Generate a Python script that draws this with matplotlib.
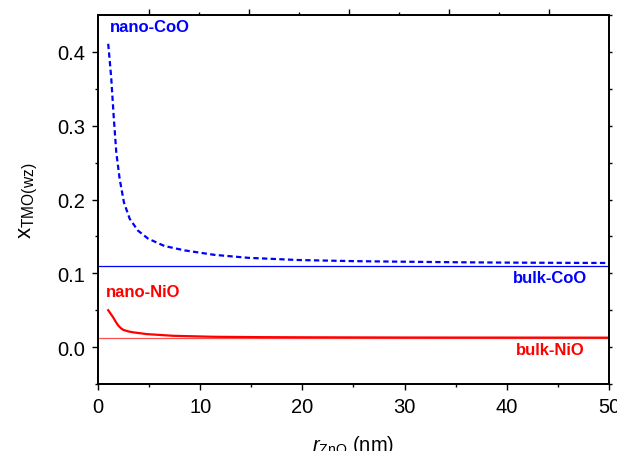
import matplotlib
matplotlib.use("Agg")
import matplotlib.pyplot as plt

plt.rcParams['font.family'] = ['Liberation Sans', 'DejaVu Sans']
plt.rcParams['mathtext.fontset'] = 'custom'
plt.rcParams['mathtext.rm'] = 'Liberation Sans'
plt.rcParams['mathtext.it'] = 'Liberation Sans:italic'
plt.rcParams['mathtext.bf'] = 'Liberation Sans:bold'

# Data
co_r = [1.0, 1.15, 1.3, 1.53, 1.79, 2.12, 2.54, 3.1, 3.9, 4.9, 6.5, 8.5, 11.4, 14.7, 19.6, 25, 30, 35, 40, 45, 50]
co_x = [0.411, 0.388, 0.364, 0.314, 0.264, 0.228, 0.196, 0.174, 0.158, 0.147, 0.137, 0.131, 0.125,
        0.121, 0.118, 0.1165, 0.1157, 0.1150, 0.1145, 0.1142, 0.1140]
ni_r = [1.0, 1.25, 1.5, 1.75, 2.0, 2.25, 2.5, 3.0, 3.45, 4.8, 7.4, 11.3, 16, 20, 30, 40, 50]
ni_x = [0.050, 0.045, 0.040, 0.034, 0.029, 0.0255, 0.0232, 0.0212, 0.0200, 0.0176, 0.0153, 0.0140,
        0.0135, 0.0133, 0.0130, 0.0129, 0.0128]
bulk_coo = 0.110
bulk_nio = 0.0126

x_ticks = [0, 10, 20, 30, 40, 50]
y_ticks = [0.0, 0.1, 0.2, 0.3, 0.4]
top_major = [4.99, 14.77, 24.56, 34.34, 44.13]
top_minor = [9.88, 19.67, 29.45, 39.24]
right_ticks = [-0.05, 0.0, 0.05, 0.1, 0.15, 0.2, 0.25, 0.3, 0.35, 0.4, 0.45]

fig = plt.figure(figsize=(6.17, 4.52), dpi=100)
ax = fig.add_axes([0.1588, 0.1482, 0.8282, 0.8164])

blue = '#0000ff'
red = '#ff0000'

ax.axhline(bulk_coo, color=blue, lw=0.9, zorder=2)
ax.axhline(bulk_nio, color='#ff5050', lw=0.9, zorder=2)
ax.plot(co_r, co_x, color=blue, lw=1.6, dashes=(2.4, 1.5), zorder=3)
ax.plot(ni_r, ni_x, color=red, lw=1.6, zorder=3)

ax.set_xlim(0, 50)
ax.set_ylim(-0.05, 0.45)
ax.set_xticks(x_ticks)
ax.set_xticks([5, 15, 25, 35, 45], minor=True)
ax.set_yticks(y_ticks)
ax.set_yticks([-0.05, 0.05, 0.15, 0.25, 0.35], minor=True)
ax.set_xticklabels([str(v) for v in x_ticks])
ax.set_yticklabels(['%.1f' % v for v in y_ticks])
ax.tick_params(which='major', direction='out', length=4.5, width=1.0, labelsize=14.5, pad=5)
ax.tick_params(which='minor', direction='out', length=2.5, width=1.0)
for s in ax.spines.values():
    s.set_linewidth(1.1)

axt = ax.twiny()
axt.set_xlim(0, 50)
axt.set_xticks(top_major)
axt.set_xticks(top_minor, minor=True)
axt.set_xticklabels([])
axt.tick_params(which='major', direction='out', length=4.5, width=1.0)
axt.tick_params(which='minor', direction='out', length=2.5, width=1.0)
axr = ax.twinx()
axr.set_ylim(-0.05, 0.45)
axr.set_yticks(right_ticks)
axr.set_yticklabels([])
axr.tick_params(which='major', direction='out', length=2.5, width=1.0)
for a in (axt, axr):
    for s in a.spines.values():
        s.set_linewidth(1.1)

ax.set_xlabel(r'$r_{\mathrm{ZnO}}$ (nm)', fontsize=14.5, labelpad=12)
ax.set_ylabel(r'x$_{\mathrm{TMO(wz)}}$', fontsize=16, labelpad=12)

ax.text(1.17, 0.434, 'nano-CoO', color=blue, fontsize=12, fontweight='bold', va='center', ha='left')
ax.text(0.78, 0.076, 'nano-NiO', color=red, fontsize=12, fontweight='bold', va='center', ha='left')
ax.text(47.9, 0.094, 'bulk-CoO', color=blue, fontsize=12, fontweight='bold', va='center', ha='right')
ax.text(47.65, -0.003, 'bulk-NiO', color=red, fontsize=12, fontweight='bold', va='center', ha='right')

fig.savefig('out.png', dpi=100)
